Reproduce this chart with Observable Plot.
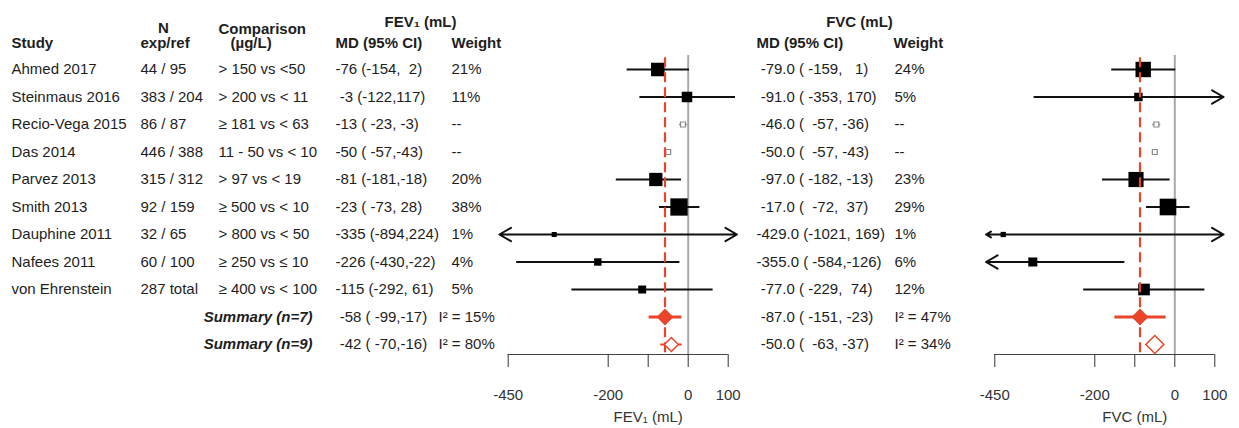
<!DOCTYPE html>
<html><head><meta charset="utf-8">
<script src="https://cdn.jsdelivr.net/npm/d3@7"></script>
<script src="https://cdn.jsdelivr.net/npm/@observablehq/plot@0.6"></script>
<style>
html,body{margin:0;padding:0;background:#fff;}
#wrap{position:relative;width:1239px;height:428px;overflow:hidden;font-family:"Liberation Sans",Arial,sans-serif;}
#wrap svg{position:absolute;top:0;}
#wrap svg text{white-space:pre;}
</style></head><body><div id="wrap"></div>
<script>
// ---------- data ----------
const studies = ["Ahmed 2017","Steinmaus 2016","Recio-Vega 2015","Das 2014","Parvez 2013","Smith 2013","Dauphine 2011","Nafees 2011","von Ehrenstein"];
const nExpRef = ["44 / 95","383 / 204","86 / 87","446 / 388","315 / 312","92 / 159","32 / 65","60 / 100","287 total"];
const comparisons = ["> 150 vs <50","> 200 vs < 11","≥ 181 vs < 63","11 - 50 vs < 10","> 97 vs < 19","≥ 500 vs < 10","> 800 vs < 50","≥ 250 vs ≤ 10","≥ 400 vs < 100"];

const fevMD = [-76,-3,-13,-50,-81,-23,-335,-226,-115];
const fevLo = [-154,-122,-23,-57,-181,-73,-894,-430,-292];
const fevHi = [2,117,-3,-43,-18,28,224,-22,61];
const fevWeight = [21,11,null,null,20,38,1,4,5];

const fvcMD = [-79,-91,-46,-50,-97,-17,-429,-355,-77];
const fvcLo = [-159,-353,-57,-57,-182,-72,-1021,-584,-229];
const fvcHi = [1,170,-36,-43,-13,37,169,-126,74];
const fvcWeight = [24,5,null,null,23,29,1,6,12];

const summaryLabels = ["Summary (n=7)","Summary (n=9)"];
const fevSumMD = [-58,-42], fevSumLo = [-99,-70], fevSumHi = [-17,-16], fevI2 = [15,80];
const fvcSumMD = [-87,-50], fvcSumLo = [-151,-63], fvcSumHi = [-23,-37], fvcI2 = [47,34];

const xTicks = [-450,-200,-100,0,100];
const xTickLabels = ["-450","-200","","0","100"];
const xLimits = [-472,122];   // display clipping (arrows beyond)

// ---------- layout ----------
const H = 428, MT = 69, MB = 74, AXIS = (H - MB - MT) / 27.5;
const RED = "#e8452a", TXT = "#1e1e1e", FONT = 15;
const wrap = document.getElementById("wrap");

function panel(o) {
  const rows = o.md.map((md, i) => ({i, md, lo: o.lo[i], hi: o.hi[i], w: o.w[i]}));
  const weighted = rows.filter(d => d.w != null);
  const unweighted = rows.filter(d => d.w == null);
  const segs = [], arrows = [];
  for (const d of weighted) {
    (d.lo < xLimits[0] ? arrows : segs).push({i: d.i, a: d.md, b: Math.max(d.lo, xLimits[0])});
    (d.hi > xLimits[1] ? arrows : segs).push({i: d.i, a: d.md, b: Math.min(d.hi, xLimits[1])});
  }
  const sums = o.sMD.map((md, k) => ({i: 9 + k, md, lo: o.sLo[k], hi: o.sHi[k]}));
  const OFF = o.left + o.ml;           // absolute x of the frame's left edge
  const T = (data, opts) => Plot.text(data, {fontSize: FONT, fill: TXT, textAnchor: "start", lineAnchor: "middle", ...opts});
  const marks = [
    Plot.ruleX([0], {y1: -0.51, y2: AXIS, stroke: "#a9a9a9", strokeWidth: 2}),
    Plot.ruleY([AXIS], {x1: xTicks[0], x2: xTicks[xTicks.length - 1], stroke: "#444", strokeWidth: 1}),
    Plot.axisX({ticks: xTicks, tickFormat: d => xTickLabels[xTicks.indexOf(d)], tickSize: 13, tickPadding: 22, fontSize: FONT, color: "#333", label: null}),
    Plot.text([o.axisLabel], {x: -100, frameAnchor: "bottom", lineAnchor: "middle", dy: 63, fontSize: FONT, fill: "#333"}),
    Plot.link(unweighted, {x1: "lo", x2: "hi", y1: "i", y2: "i", stroke: "#9a9a9a", strokeWidth: 1.5}),
    Plot.dot(unweighted, {x: "md", y: "i", r: 2.8, symbol: "square", fill: "white", stroke: "#8a8a8a", strokeWidth: 1.2}),
    Plot.link(segs, {x1: "a", x2: "b", y1: "i", y2: "i", stroke: "#111", strokeWidth: 2}),
    Plot.arrow(arrows, {x1: "a", x2: "b", y1: "i", y2: "i", stroke: "#111", strokeWidth: 2, headLength: 10, headAngle: 60}),
    Plot.dot(weighted, {x: "md", y: "i", r: "w", symbol: "square", fill: "#000"}),
    Plot.ruleX([o.sMD[0]], {y1: -0.43, y2: 10.3, stroke: RED, strokeWidth: 2.2, strokeDasharray: "10,5"}),
    Plot.link(sums.slice(0,1), {x1: "lo", x2: "hi", y1: "i", y2: "i", stroke: RED, strokeWidth: 3}),
    Plot.link(sums.slice(1), {x1: "lo", x2: "hi", y1: "i", y2: "i", stroke: RED, strokeWidth: 2}),
    Plot.dot(sums.slice(0,1), {x: "md", y: "i", r: 7.6, symbol: "diamond2", fill: RED}),
    Plot.dot(sums.slice(1), {x: "md", y: "i", r: o.hollowR, symbol: "diamond2", fill: "white", stroke: RED, strokeWidth: 1.5}),
    // column text (positions given in absolute page pixels, converted to offsets from the frame)
    T(rows, {y: "i", text: d => o.fmt(d.md, d.lo, d.hi, false), frameAnchor: "left", dx: o.mdX - OFF}),
    T(rows, {y: "i", text: d => d.w == null ? "--" : d.w + "%", frameAnchor: "left", dx: o.wX - OFF}),
    T(sums, {y: "i", text: d => o.fmt(d.md, d.lo, d.hi, true), frameAnchor: "left", dx: o.mdX - OFF}),
    T(sums, {y: "i", text: (d, k) => "I² = " + o.i2[k] + "%", frameAnchor: "left", dx: o.iX - OFF}),
    // headers
    T([o.header], {frameAnchor: "top-left", dx: o.headerC - OFF, dy: 21.7 - MT, textAnchor: "middle", fontWeight: "bold"}),
    T(["MD (95% CI)"], {frameAnchor: "top-left", dx: o.mdHX - OFF, dy: 43 - MT, fontWeight: "bold"}),
    T(["Weight"], {frameAnchor: "top-left", dx: o.wHX - OFF, dy: 43 - MT, fontWeight: "bold"}),
    ...(o.extra ? o.extra(rows, sums, T, OFF) : [])
  ];
  const svg = Plot.plot({
    width: o.width, height: H,
    marginLeft: o.ml, marginRight: o.width - o.ml - 220, marginTop: MT, marginBottom: MB,
    x: {domain: [-450, 100], axis: null},
    y: {domain: [0, AXIS], reverse: true, axis: null},
    r: {type: "sqrt", domain: [0, o.wMax], range: [1.5, o.rMax]},
    style: {fontFamily: '"Liberation Sans", Arial, sans-serif', fontSize: "15px", background: "transparent", overflow: "visible"},
    marks
  });
  svg.style.left = o.left + "px";
  wrap.appendChild(svg);
}

const fevFmt = (md, lo, hi, s) => `${String(md).padStart(s ? 4 : 3)} (${String(lo).padStart(4)},${String(hi).padStart(3)})`;
const fvcFmt = (md, lo, hi) => `${md.toFixed(1).padStart(6)} (${String(lo).padStart(5)},${String(hi).padStart(4)})`;

panel({
  left: 0, width: 745, ml: 507.7,
  md: fevMD, lo: fevLo, hi: fevHi, w: fevWeight, wMax: d3.max(fevWeight), rMax: 9.75,
  sMD: fevSumMD, sLo: fevSumLo, sHi: fevSumHi, i2: fevI2, hollowR: 6.3,
  fmt: fevFmt, mdX: 335, wX: 451, iX: 438, mdHX: 335, wHX: 451,
  header: "FEV₁ (mL)", headerC: 420, axisLabel: "FEV₁ (mL)",
  extra: (rows, sums, T, OFF) => [
    T(rows, {y: "i", text: d => studies[d.i], frameAnchor: "left", dx: 11 - OFF}),
    T(rows, {y: "i", text: d => nExpRef[d.i], frameAnchor: "left", dx: 140 - OFF}),
    T(rows, {y: "i", text: d => comparisons[d.i], frameAnchor: "left", dx: 218 - OFF}),
    T(sums, {y: "i", text: (d, k) => summaryLabels[k], frameAnchor: "left", dx: 312 - OFF, textAnchor: "end", fontWeight: "bold", fontStyle: "italic"}),
    T(["Study"], {frameAnchor: "top-left", dx: 11 - OFF, dy: 43 - MT, fontWeight: "bold"}),
    T(["N"], {frameAnchor: "top-left", dx: 163 - OFF, dy: 28 - MT, fontWeight: "bold", textAnchor: "middle"}),
    T(["exp/ref"], {frameAnchor: "top-left", dx: 140 - OFF, dy: 43 - MT, fontWeight: "bold"}),
    T(["Comparison"], {frameAnchor: "top-left", dx: 218 - OFF, dy: 29 - MT, fontWeight: "bold"}),
    T(["(µg/L)"], {frameAnchor: "top-left", dx: 230 - OFF, dy: 43 - MT, fontWeight: "bold"})
  ]
});

panel({
  left: 745, width: 494, ml: 249.3,
  md: fvcMD, lo: fvcLo, hi: fvcHi, w: fvcWeight, wMax: d3.max(fvcWeight), rMax: 9.4,
  sMD: fvcSumMD, sLo: fvcSumLo, sHi: fvcSumHi, i2: fvcI2, hollowR: 8.1,
  fmt: fvcFmt, mdX: 756, wX: 894, iX: 894, mdHX: 756, wHX: 893,
  header: "FVC (mL)", headerC: 859, axisLabel: "FVC (mL)"
});
</script></body></html>
